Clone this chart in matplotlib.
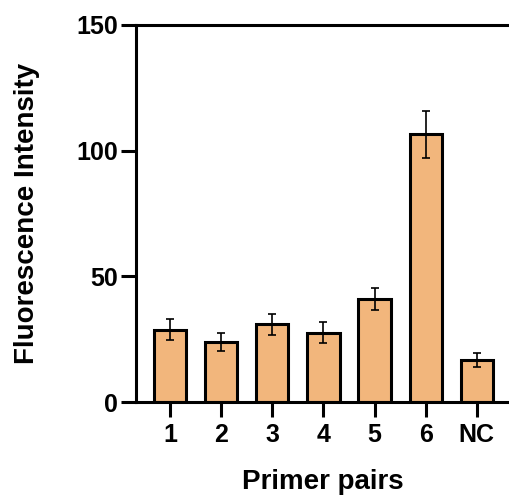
import numpy as np
import matplotlib.pyplot as plt

plt.rcParams['font.family'] = ['Liberation Sans', 'DejaVu Sans']
plt.rcParams['font.weight'] = 'bold'

# values
labels = ['1', '2', '3', '4', '5', '6', 'NC']
means = [28.7, 24.0, 31.0, 27.6, 41.0, 106.5, 16.7]
errs = [4.2, 3.6, 4.2, 4.3, 4.4, 9.4, 2.9]

fig = plt.figure(figsize=(5.09, 4.95), dpi=100)
ax = fig.add_axes([136 / 509, 1 - 402 / 495, 1 - 136 / 509, (402 - 25) / 495])

x = np.arange(len(labels))
ax.bar(x, means, width=0.63, color='#F2B67C', edgecolor='black', linewidth=2.2,
       yerr=errs, capsize=2.6, error_kw=dict(elinewidth=1.2, capthick=1.2, ecolor='black'),
       zorder=2)

ax.set_xlim(-0.665, 6.63)
ax.set_ylim(0, 150)
ax.set_yticks([0, 50, 100, 150])
ax.set_xticks(x)
ax.set_xticklabels(labels)

for s in ['left', 'bottom', 'top']:
    ax.spines[s].set_linewidth(2.2)
ax.spines['right'].set_visible(False)

ax.tick_params(axis='y', length=11, width=2.2, labelsize=18, pad=2)
ax.tick_params(axis='x', length=11, width=2.2, labelsize=18, pad=4)
for t in ax.get_xticklabels() + ax.get_yticklabels():
    t.set_fontweight('bold')

ax.set_xlabel('Primer pairs', fontsize=20, fontweight='bold', labelpad=16)
ax.set_ylabel('Fluorescence Intensity', fontsize=20, fontweight='bold', labelpad=26)

fig.savefig('out.png', dpi=100)
